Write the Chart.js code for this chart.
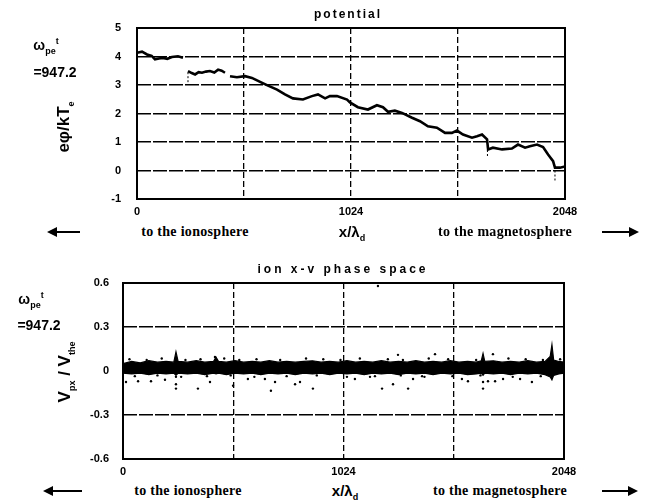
<!DOCTYPE html>
<html>
<head>
<meta charset="utf-8">
<script src="https://cdn.jsdelivr.net/npm/chart.js@4/dist/chart.umd.min.js"></script>
<style>
  body { margin: 0; background: #fff; }
  #wrap { position: relative; width: 650px; height: 504px; overflow: hidden; background: #fff; }
  canvas { position: absolute; left: 0; }
  .t { position: absolute; white-space: nowrap; color: #000; transform: translate(-50%, -50%); }
  .title { font: bold 12px "Liberation Sans", Arial, sans-serif; letter-spacing: 2px; }
  .serif { font: bold 14px "Liberation Serif", "Times New Roman", serif; letter-spacing: 0.3px; }
  .xl { font: bold 15px "Liberation Sans", Arial, sans-serif; }
  .yl { font: bold 17px "Liberation Sans", Arial, sans-serif; transform: translate(-50%, -50%) rotate(-90deg); }
  .om { font: bold 14px "Liberation Sans", Arial, sans-serif; }
  sub, sup { font-size: 9px; }
  .arrow { position: absolute; height: 2px; background: #000; }
  .arrow.l::before, .arrow.r::after { content: ""; position: absolute; top: -4px; border-top: 5px solid transparent; border-bottom: 5px solid transparent; }
  .arrow.l::before { left: -9px; border-right: 10px solid #000; }
  .arrow.r::after { right: -9px; border-left: 10px solid #000; }
</style>
</head>
<body>
<div id="wrap">
  <canvas id="pot" width="650" height="222" style="top:0"></canvas>
  <canvas id="phase" width="650" height="240" style="top:240px"></canvas>

  <div class="t title" style="left:348px; top:14px">potential</div>
  <div class="t om" style="left:46px; top:46px">ω<sub>pe</sub><sup>t</sup></div>
  <div class="t om" style="left:55px; top:72px">=947.2</div>
  <div class="t yl" style="left:65px; top:127px">eφ/kT<sub>e</sub></div>
  <div class="arrow l" style="left:56px; top:231px; width:24px"></div>
  <div class="t serif" style="left:195px; top:232px">to the ionosphere</div>
  <div class="t xl" style="left:352px; top:233px">x/λ<sub>d</sub></div>
  <div class="t serif" style="left:505px; top:232px">to the magnetosphere</div>
  <div class="arrow r" style="left:602px; top:231px; width:28px"></div>

  <div class="t title" style="left:343px; top:269px; letter-spacing:3px">ion x-v phase space</div>
  <div class="t om" style="left:31px; top:300px">ω<sub>pe</sub><sup>t</sup></div>
  <div class="t om" style="left:39px; top:325px">=947.2</div>
  <div class="t yl" style="left:66px; top:372px">V<sub>px</sub> / V<sub>the</sub></div>
  <div class="arrow l" style="left:52px; top:490px; width:30px"></div>
  <div class="t serif" style="left:188px; top:491px">to the ionosphere</div>
  <div class="t xl" style="left:345px; top:492px">x/λ<sub>d</sub></div>
  <div class="t serif" style="left:500px; top:491px">to the magnetosphere</div>
  <div class="arrow r" style="left:602px; top:490px; width:27px"></div>
</div>
<script>
// potential profile e*phi/kTe along x (null = break in the curve)
const potX = [0, 24, 48, 70, 86, 105, 124, 145, 167, 196, 220, 232,
  244, 262, 278, 295, 311, 330, 349, 370, 388, 405, 421, 433,
  445, 478, 517, 550, 589, 627, 670, 708, 746, 794, 837, 866, 900, 923, 957, 1005,
  1019, 1057, 1105, 1148, 1177, 1201, 1234, 1268, 1316, 1354, 1392, 1435, 1474,
  1507, 1531, 1560, 1603, 1627, 1651, 1675, 1680, 1703, 1747, 1794, 1823, 1857,
  1880, 1914, 1943, 1967, 1991, 2000, 2024, 2048];
const potY = [4.13, 4.17, 4.07, 4.02, 3.9, 3.93, 3.95, 3.92, 3.98, 4.01, 3.96, null,
  3.49, 3.42, 3.37, 3.45, 3.43, 3.47, 3.49, 3.44, 3.54, 3.5, 3.43, null,
  3.31, 3.27, 3.31, 3.25, 3.11, 2.98, 2.84, 2.67, 2.53, 2.49, 2.61, 2.67, 2.53, 2.61, 2.61, 2.49,
  2.39, 2.22, 2.14, 2.29, 2.22, 2.06, 2.1, 2.02, 1.85, 1.73, 1.55, 1.5,
  1.32, 1.32, 1.4, 1.26, 1.15, 1.2, 1.26, 1.09, 0.74, 0.8, 0.74, 0.77, 0.91, 0.8,
  0.85, 0.91, 0.82, 0.56, 0.33, 0.1, 0.1, 0.14];
// faint vertical glitch marks on the potential curve
const glitchX = [244, 244, 245, 1677, 1677, 1678, 2000, 2000];
const glitchY = [3.45, 3.0, null, 1.0, 0.45, null, 0.0, -0.35];

// ion phase space: envelope of the dense band and the scattered ions
const bandX = [0, 40, 80, 120, 160, 200, 236, 246, 256, 300, 340, 380, 420, 432, 444,
  480, 520, 560, 600, 640, 680, 720, 760, 800, 840, 880, 920, 960, 1000, 1040,
  1080, 1120, 1160, 1200, 1240, 1280, 1320, 1360, 1400, 1440, 1480, 1520, 1560, 1600,
  1640, 1664, 1672, 1680, 1720, 1760, 1800, 1840, 1880, 1920, 1960, 1984, 1992, 2000,
  2024, 2048];
const bandTop = [0.05, 0.065, 0.055, 0.07, 0.06, 0.065, 0.06, 0.13, 0.065, 0.06, 0.07, 0.06, 0.065, 0.095, 0.065,
  0.06, 0.07, 0.06, 0.065, 0.06, 0.07, 0.06, 0.065, 0.06, 0.065, 0.07, 0.06, 0.065, 0.06, 0.07,
  0.06, 0.065, 0.06, 0.07, 0.06, 0.065, 0.06, 0.07, 0.06, 0.065, 0.06, 0.07, 0.06, 0.065,
  0.06, 0.07, 0.12, 0.065, 0.07, 0.06, 0.065, 0.06, 0.07, 0.06, 0.065, 0.1, 0.18, 0.075,
  0.065, 0.06];
const bandBottom = [-0.015, -0.02, -0.015, -0.025, -0.015, -0.02, -0.015, -0.03, -0.015, -0.02, -0.015, -0.025, -0.015, -0.02, -0.015,
  -0.025, -0.015, -0.02, -0.015, -0.025, -0.015, -0.02, -0.015, -0.025, -0.015, -0.02, -0.015, -0.025, -0.015, -0.02,
  -0.015, -0.025, -0.015, -0.02, -0.015, -0.025, -0.015, -0.02, -0.015, -0.025, -0.015, -0.02, -0.015, -0.025,
  -0.02, -0.015, -0.03, -0.015, -0.02, -0.015, -0.025, -0.015, -0.02, -0.015, -0.025, -0.04, -0.06, -0.03,
  -0.02, -0.015];
const outX = [14, 70, 130, 195, 246, 246, 246, 348, 404, 511, 580, 659, 687, 706, 799, 822, 882,
  1077, 1147, 1203, 1254, 1324, 1347, 1389, 1574, 1602, 1672, 1672, 1695, 1728, 1765, 1844,
  1899, 1997, 1184, 427, 1449, 1718, 1277,
  30, 110, 180, 290, 360, 470, 540, 620, 730, 850, 930, 1010, 1100, 1230, 1300, 1420, 1510, 1640, 1790, 1870, 1950, 2030,
  55, 160, 270, 390, 500, 610, 760, 900, 1040, 1170, 1290, 1400, 1530, 1660, 1810, 1940];
const outY = [-0.075, -0.07, -0.07, -0.06, -0.04, -0.09, -0.12, -0.12, -0.075, -0.1, -0.055, -0.055,
  -0.135, -0.075, -0.09, -0.075, -0.12, -0.055, -0.04, -0.12, -0.09, -0.12, -0.055, -0.035, -0.055,
  -0.07, -0.075, -0.12, -0.07, -0.07, -0.055, -0.055, -0.075, -0.02, 0.58, 0.095, 0.115, 0.115, 0.11,
  0.08, 0.075, 0.085, 0.075, 0.08, 0.085, 0.075, 0.08, 0.075, 0.085, 0.08, 0.075, 0.085, 0.08, 0.075, 0.085, 0.08, 0.075, 0.085, 0.08, 0.075, 0.08,
  -0.035, -0.03, -0.04, -0.035, -0.03, -0.04, -0.035, -0.03, -0.04, -0.035, -0.03, -0.04, -0.035, -0.03, -0.04, -0.035];

const xTickLabels = [0, 1024, 2048];

const tickFont = { family: "'Liberation Sans', Arial, sans-serif", size: 11, weight: "bold" };
const pts = (xs, ys) => xs.map((x, i) => ({ x: x, y: ys[i] }));

// black frame around the plot area
const frame = {
  id: "frame",
  afterDatasetsDraw(chart) {
    const a = chart.chartArea, c = chart.ctx;
    c.save();
    c.lineWidth = 2;
    c.strokeStyle = "#000";
    c.strokeRect(a.left, a.top, a.right - a.left, a.bottom - a.top);
    c.restore();
  }
};

function xScale(h) {
  return {
    type: "linear", min: 0, max: 2048,
    afterFit: s => { s.height = h; },
    ticks: {
      stepSize: 512, autoSkip: false, maxRotation: 0, padding: 6, color: "#000", font: tickFont,
      callback: v => xTickLabels.includes(v) ? String(v) : ""
    },
    grid: {
      drawTicks: false, lineWidth: 1.3,
      color: c => (c.tick && (c.tick.value === 0 || c.tick.value === 2048)) ? "rgba(0,0,0,0)" : "#000"
    },
    border: { display: false, dash: [6, 3] }
  };
}

function yScale(w, min, max, step, pad, fmt) {
  return {
    min: min, max: max,
    afterFit: s => { s.width = w; },
    ticks: { stepSize: step, padding: pad, color: "#000", font: tickFont, callback: fmt },
    grid: {
      drawTicks: false, lineWidth: 1.6,
      color: c => (c.tick && (Math.abs(c.tick.value - min) < 1e-6 || Math.abs(c.tick.value - max) < 1e-6)) ? "rgba(0,0,0,0)" : "#000"
    },
    border: { display: false, dash: [14, 2] }
  };
}

new Chart(document.getElementById("pot"), {
  type: "line",
  data: {
    datasets: [
      { data: pts(potX, potY), borderColor: "#000", borderWidth: 2.6, pointRadius: 0, tension: 0, spanGaps: false },
      { data: pts(glitchX, glitchY), borderColor: "#000", borderWidth: 1, borderDash: [2, 2], pointRadius: 0, spanGaps: false }
    ]
  },
  options: {
    responsive: false, animation: false,
    layout: { padding: { top: 28, right: 85, left: 0, bottom: 0 } },
    plugins: { legend: { display: false }, tooltip: { enabled: false } },
    scales: {
      x: xScale(23),
      y: yScale(137, -1, 5, 1, 16, v => String(v))
    }
  },
  plugins: [frame]
});

new Chart(document.getElementById("phase"), {
  type: "line",
  data: {
    datasets: [
      { data: pts(bandX, bandTop), borderColor: "#000", backgroundColor: "#000", borderWidth: 1.2, pointRadius: 0, fill: "+1" },
      { data: pts(bandX, bandBottom), borderColor: "#000", borderWidth: 1.2, pointRadius: 0, fill: false },
      { data: pts(outX, outY), showLine: false, pointRadius: 1.2, pointBackgroundColor: "#000", pointBorderWidth: 0 }
    ]
  },
  options: {
    responsive: false, animation: false,
    layout: { padding: { top: 43, right: 86, left: 0, bottom: 0 } },
    plugins: { legend: { display: false }, tooltip: { enabled: false } },
    scales: {
      x: xScale(21),
      y: yScale(123, -0.6, 0.6, 0.3, 14, v => Math.abs(v) < 1e-9 ? "0" : v.toFixed(1))
    }
  },
  plugins: [frame]
});
</script>
</body>
</html>
